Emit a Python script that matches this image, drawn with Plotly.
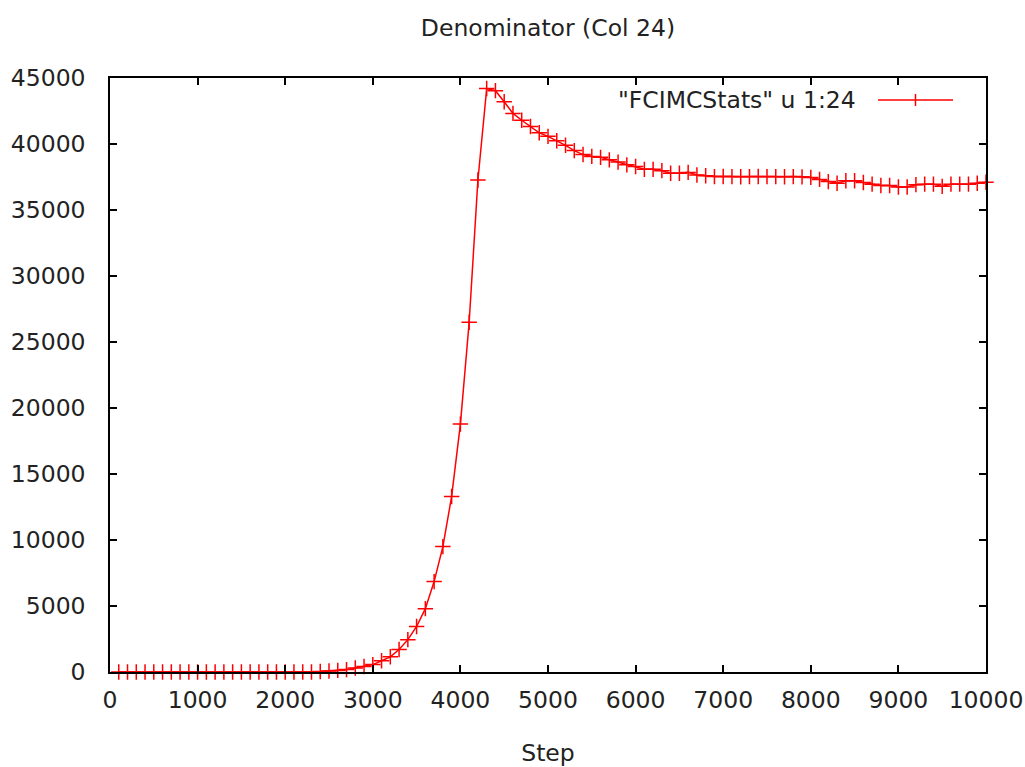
import plotly.graph_objects as go

steps = list(range(100, 10001, 100))
denominator = (
    [0] * 23
    + [40, 80, 120, 180, 300, 420, 560, 850, 1150, 1700,
       2450, 3450, 4800, 6850, 9500, 13300, 18780, 26500, 37270, 44200]
    + [44040, 43200, 42320, 41800, 41330, 40850, 40580, 40250, 39900, 39500,
       39200, 39060, 38990, 38800, 38630, 38420, 38300, 38080, 38080, 37980,
       37780, 37780, 37850, 37650, 37600]
    + [37530, 37540, 37530, 37520, 37530, 37540, 37530, 37530, 37520, 37530, 37510]
    + [37470, 37320, 37150, 37030, 37220, 37220, 37080, 36960, 36860, 36860,
       36740, 36740, 36920, 36960, 36960, 36790, 36960, 36960, 36960, 37030, 37100]
)
series_name = '"FCIMCStats" u 1:24'
title_text = "Denominator (Col 24)"
x_title = "Step"
x_ticks = list(range(0, 10001, 1000))
x_ticklabels = [str(v) for v in x_ticks]
y_ticks = list(range(0, 45001, 5000))
y_ticklabels = [str(v) for v in y_ticks]

FONT = "DejaVu Sans"
RED = "#ff0000"
TXT = "#222222"
FS = 23.5

fig = go.Figure()
fig.add_trace(go.Scatter(
    x=steps, y=denominator, mode="lines+markers", name=series_name,
    line=dict(color=RED, width=1.5),
    marker=dict(symbol="cross-thin", size=11, line=dict(color=RED, width=1.5)),
    cliponaxis=False, showlegend=False,
))

# body margin removed by post_script; target plot box in page px: x 110..986, y 78..672
W, H = 1025, 767
L, T = 110, 78
R = W - 986
B = H - 672
pw, ph = W - L - R, H - T - B

axis_common = dict(
    showline=True, mirror="ticks", linecolor="black", linewidth=1.5,
    ticks="inside", ticklen=7, tickwidth=1.5, tickcolor="black",
    showgrid=False, zeroline=False, automargin=False,
    tickfont=dict(family=FONT, size=FS, color=TXT),
)

fig.update_layout(
    width=W, height=H,
    margin=dict(l=L, r=R, t=T, b=B, autoexpand=False),
    paper_bgcolor="white", plot_bgcolor="white",
    title=dict(text=title_text, x=(L + pw / 2) / W, xanchor="center",
               y=1 - 28 / H, yanchor="middle",
               font=dict(family=FONT, size=FS, color=TXT)),
    xaxis=dict(range=[0, 10000], tickvals=x_ticks, ticktext=x_ticklabels,
               ticklabelstandoff=6,
               title=dict(text=x_title, standoff=32,
                          font=dict(family=FONT, size=FS, color=TXT)),
               **axis_common),
    yaxis=dict(range=[0, 45000], tickvals=y_ticks, ticktext=y_ticklabels,
               ticklabelstandoff=18,
               **axis_common),
    showlegend=False,
)

# legend replica (text then sample line with marker on the right)
def px(xp):
    return (xp - L) / pw
leg_y = (672 - 100) / ph
fig.add_annotation(x=px(858), y=leg_y, xref="paper", yref="paper",
                   text=series_name, showarrow=False, xanchor="right",
                   yanchor="middle",
                   font=dict(family=FONT, size=FS, color=TXT))
fig.add_shape(type="line", xref="paper", yref="paper",
              x0=px(878), x1=px(953), y0=leg_y, y1=leg_y,
              line=dict(color=RED, width=1.5))
fig.add_shape(type="line", xref="paper", yref="paper",
              x0=px(915.5), x1=px(915.5), y0=leg_y - 6 / ph, y1=leg_y + 6 / ph,
              line=dict(color=RED, width=1.5))

fig.write_html(
    "out.html",
    config={"displayModeBar": False},
    post_script="document.body.style.margin='0';document.body.style.overflow='hidden';",
)
